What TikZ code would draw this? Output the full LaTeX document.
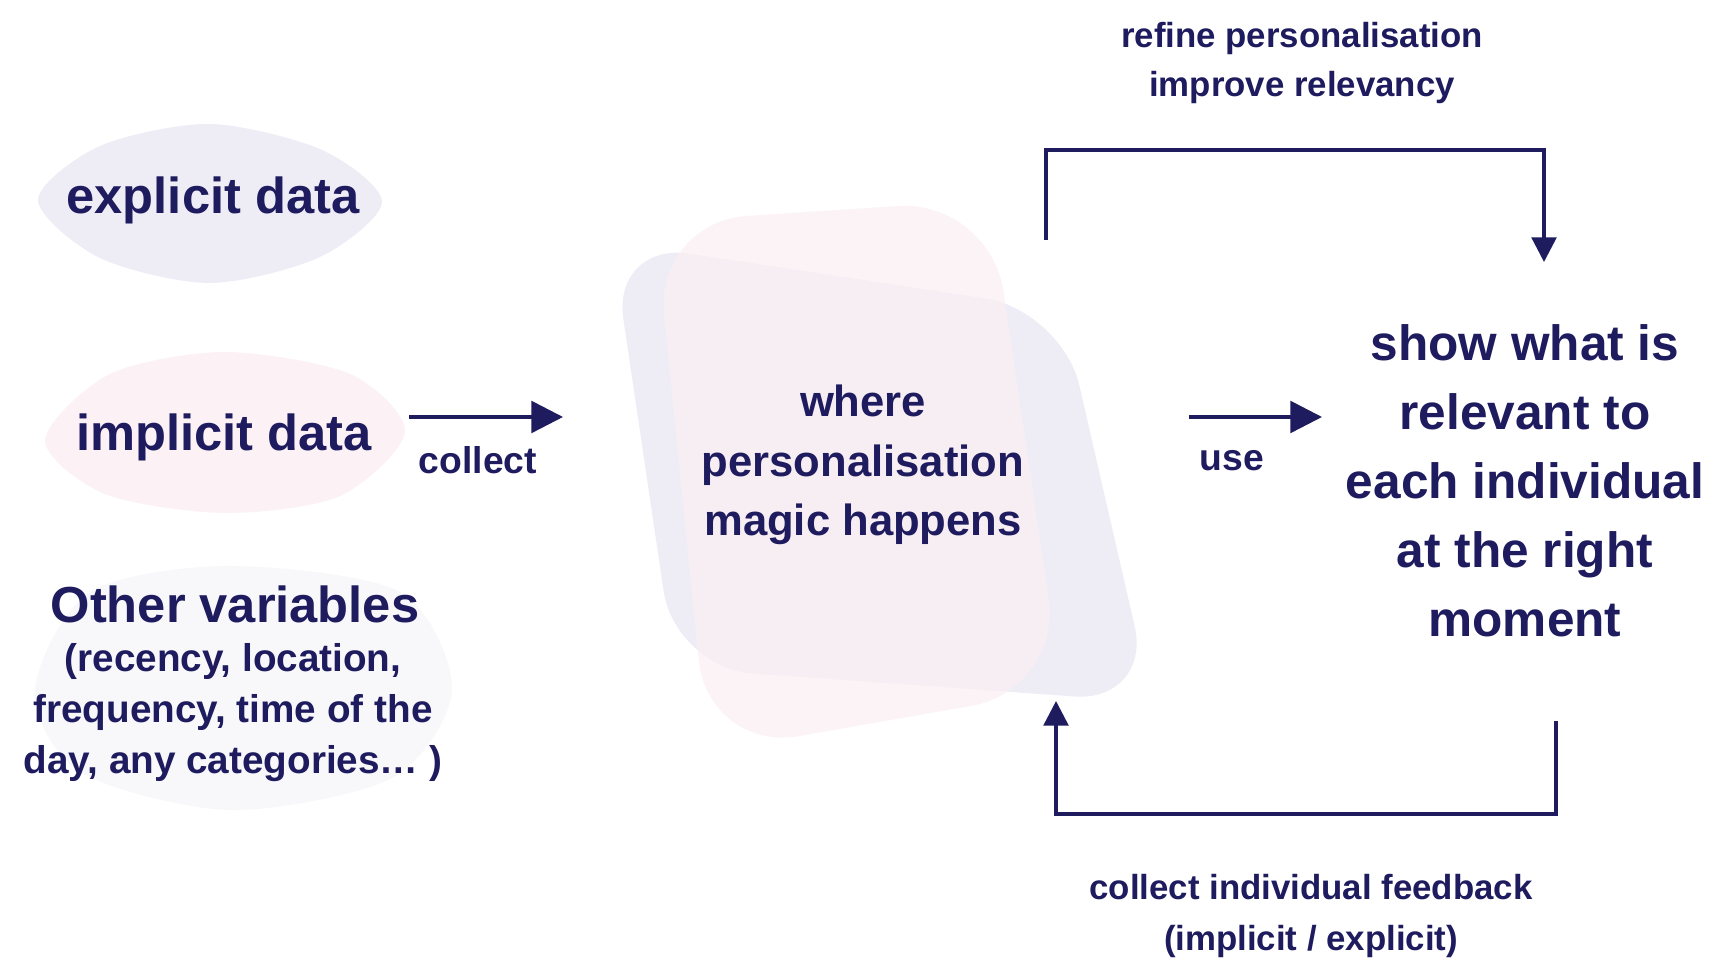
\documentclass[tikz,border=0pt]{standalone}
\usepackage{fontspec}
\setmainfont{Liberation Sans}
\usepackage{xcolor}
\usepackage{tikz}
\usetikzlibrary{arrows, arrows.meta}

\definecolor{navy}{HTML}{1E1B5E}
\definecolor{lav}{HTML}{EEEDF6}
\definecolor{rose}{HTML}{FBEFF4}

\begin{document}
\begin{tikzpicture}[x=0.01cm,y=-0.01cm,
  every node/.style={text=navy,font=\bfseries,align=center,inner sep=0pt},
  big/.style={font=\fontsize{14.4}{18}\selectfont\bfseries},
  note/.style={font=\fontsize{10.6}{13}\selectfont\bfseries},
  flow/.style={draw=navy,line width=1pt,-{Triangle[length=9pt,width=9pt]}},
  loop/.style={draw=navy,line width=1pt,-{Triangle[length=7pt,width=7pt]}}]
\useasboundingbox (0,0) rectangle (1713,962);
\fill[white] (0,0) rectangle (1713,962);
% soft blobs behind the texts
\fill[lav] plot[smooth cycle] coordinates {(38,200) (100,146) (210,124) (322,150) (382,202) (320,257) (210,283) (100,258)};
\fill[rose!80] plot[smooth cycle] coordinates {(45,440) (110,374) (225,352) (350,374) (405,432) (340,496) (225,513) (105,494)};
\fill[lav!40] plot[smooth cycle] coordinates {(35,690) (90,592) (230,566) (400,592) (452,690) (392,778) (230,810) (80,772)};
\fill[lav,rounded corners=22pt] (612,242) -- (1062,310) -- (1152,702) -- (675,668) -- cycle;
\fill[rose,fill opacity=0.75,rounded corners=26pt] (655,222) -- (990,200) -- (1062,690) -- (708,752) -- cycle;
% texts
\node[big] (explicit) at (213,200) {explicit data};
\node[big] (implicit) at (224,437) {implicit data};
\node[big] (other) at (235,604) {Other variables};
\node[font=\fontsize{11}{14.5}\selectfont\bfseries] (otherlist) at (233,713) {(recency, location,\\frequency, time of the\\day, any categories… )};
\node[font=\fontsize{12.4}{17}\selectfont\bfseries] (magic) at (863,465) {where\\personalisation\\magic happens};
\node[font=\fontsize{14.1}{19.6}\selectfont\bfseries] (relevant) at (1525,481) {show what is\\relevant to\\each individual\\at the right\\moment};
% arrows
\coordinate (collectA) at (409,417);
\coordinate (collectB) at (563,417);
\draw[flow] (collectA) -- (collectB);
\node[note] (collect) at (478,460) {collect};
\coordinate (useA) at (1189,417);
\coordinate (useB) at (1322,417);
\draw[flow] (useA) -- (useB);
\node[note] (use) at (1232,461) {use};
% loops
\coordinate (topA) at (1046,240);
\coordinate (topB) at (1544,262);
\draw[loop] (topA) -- ++(0,-90) -| (topB);
\node[font=\fontsize{9.9}{13.7}\selectfont\bfseries] (refine) at (1302,63) {refine personalisation\\improve relevancy};
\coordinate (botA) at (1556,721);
\coordinate (botB) at (1056,701);
\draw[loop] (botA) -- ++(0,93) -| (botB);
\node[font=\fontsize{9.9}{14.5}\selectfont\bfseries] (feedback) at (1311,916) {collect individual feedback\\(implicit / explicit)};
\end{tikzpicture}
\end{document}
